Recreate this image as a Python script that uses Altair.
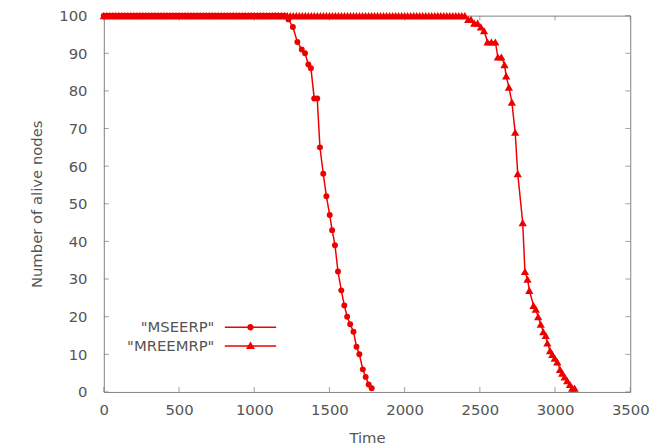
import altair as alt
import pandas as pd

RED = "#ee0000"
GREY = "#555555"
FONT = "DejaVu Sans"

series_names = ['"MSEERP"', '"MREEMRP"']

# MSEERP: plateau at 100 sampled every 20 time units, then the decline
mseerp_plateau_t = list(range(0, 1201, 20))
mseerp_fall_t = [1228, 1257, 1287, 1316, 1338, 1360, 1377, 1399, 1419, 1437,
                 1459, 1480, 1502, 1518, 1537, 1557, 1579, 1599, 1618, 1638,
                 1660, 1680, 1699, 1722, 1741, 1761, 1781]
mseerp_fall_v = [99, 97, 93, 91, 90, 87, 86, 78, 78, 65,
                 58, 52, 47, 43, 39, 32, 27, 23, 20, 18,
                 16, 12, 10, 6, 4, 2, 1]

# MREEMRP: plateau at 100 sampled every 20 time units, then the decline
mreemrp_plateau_t = list(range(0, 2401, 20))
mreemrp_fall_t = [2423, 2441, 2463, 2485, 2507, 2528, 2551, 2577, 2603, 2620,
                  2643, 2664, 2675, 2693, 2713, 2735, 2752, 2785, 2800, 2817,
                  2829, 2857, 2872, 2888, 2905, 2922, 2938, 2949, 2967, 2982,
                  2998, 3015, 3033, 3048, 3064, 3081, 3099, 3114, 3130]
mreemrp_fall_v = [99, 99, 98, 98, 97, 96, 93, 93, 93, 89,
                  89, 87, 84, 81, 77, 69, 58, 45, 32, 30,
                  27, 23, 22, 20, 18, 16, 15, 13, 11, 10,
                  9, 8, 6, 5, 4, 3, 2, 1, 1]

x_ticks = [0, 500, 1000, 1500, 2000, 2500, 3000, 3500]
y_ticks = [0, 10, 20, 30, 40, 50, 60, 70, 80, 90, 100]

rows = []
for t in mseerp_plateau_t:
    rows.append({"time": t, "nodes": 100, "series": series_names[0]})
for t, v in zip(mseerp_fall_t, mseerp_fall_v):
    rows.append({"time": t, "nodes": v, "series": series_names[0]})
for t in mreemrp_plateau_t:
    rows.append({"time": t, "nodes": 100, "series": series_names[1]})
for t, v in zip(mreemrp_fall_t, mreemrp_fall_v):
    rows.append({"time": t, "nodes": v, "series": series_names[1]})
df = pd.DataFrame(rows)

xt = pd.DataFrame({"t": x_ticks})
yt = pd.DataFrame({"v": y_ticks})

xscale = alt.Scale(domain=[0, 3500], nice=False, zero=False)
yscale = alt.Scale(domain=[0, 100], nice=False)

x_axis = alt.Axis(
    values=x_ticks, format="d", ticks=False, domain=False, grid=False, title="Time",
    labelPadding=11, titlePadding=13, labelFlush=False, labelOverlap=False)
y_axis = alt.Axis(
    values=y_ticks, format="d", ticks=False, domain=False, grid=False,
    title="Number of alive nodes", labelPadding=17, titlePadding=14,
    labelOverlap=False, labelFlush=False)

line = alt.Chart(df).mark_line(color=RED, strokeWidth=1.5).encode(
    x=alt.X("time:Q", scale=xscale, axis=x_axis),
    y=alt.Y("nodes:Q", scale=yscale, axis=y_axis),
    detail="series:N")

pts = alt.Chart(df).mark_point(filled=True, color=RED, opacity=1).encode(
    x=alt.X("time:Q", axis=x_axis), y=alt.Y("nodes:Q", axis=y_axis),
    shape=alt.Shape("series:N", scale=alt.Scale(domain=series_names, range=["circle", "triangle-up"]), legend=None),
    size=alt.Size("series:N", scale=alt.Scale(domain=series_names, range=[36, 70]), legend=None),
)

# legend symbols: a short line (thin filled bar) with the series marker on it
circ_path = "M-5.2,-0.15H5.2V0.15H-5.2Z M0.65,0A0.65,0.65,0,1,1,-0.65,0A0.65,0.65,0,1,1,0.65,0Z"
tri_path = "M-5.2,-0.15H5.2V0.15H-5.2Z M0,-0.9L0.9,0.6L-0.9,0.6Z"

legend_layer = alt.Chart(df).transform_filter("false").mark_point(
    filled=True, color=RED, opacity=1, size=100
).encode(
    shape=alt.Shape("series:N", scale=alt.Scale(domain=series_names, range=[circ_path, tri_path]),
                    legend=alt.Legend(title=None, orient="none", legendX=141, legendY=308,
                                      labelAlign="right", labelOffset={"expr": "-44"}, labelFontSize=15,
                                      labelFont=FONT, labelColor=GREY, symbolSize=100,
                                      symbolFillColor=RED, symbolOpacity=1, rowPadding=3))
)

tick_style = dict(color="#777777", thickness=1)
bottom_ticks = alt.Chart(xt).mark_tick(orient="vertical", size=5, yOffset=-2.5, **tick_style).encode(
    x=alt.X("t:Q", axis=x_axis), y=alt.YDatum(0, axis=y_axis))
top_ticks = alt.Chart(xt).mark_tick(orient="vertical", size=5, yOffset=2.5, **tick_style).encode(
    x=alt.X("t:Q", axis=x_axis), y=alt.YDatum(100, axis=y_axis))
left_ticks = alt.Chart(yt).mark_tick(orient="horizontal", size=5, xOffset=2.5, **tick_style).encode(
    y=alt.Y("v:Q", axis=y_axis), x=alt.XDatum(0, axis=x_axis))
right_ticks = alt.Chart(yt).mark_tick(orient="horizontal", size=5, xOffset=-2.5, **tick_style).encode(
    y=alt.Y("v:Q", axis=y_axis), x=alt.XDatum(3500, axis=x_axis))

chart = alt.layer(
    line, bottom_ticks, top_ticks, left_ticks, right_ticks, pts, legend_layer
).resolve_scale(shape="independent", size="independent").properties(
    width=533, height=381,
    background="white",
    autosize=alt.AutoSizeParams(type="none"),
    padding={"left": 97, "top": 5, "right": 20, "bottom": 53},
).configure_view(
    stroke="#808080", strokeWidth=1
).configure_axis(
    labelFont=FONT, labelFontSize=15, labelColor=GREY,
    titleFont=FONT, titleFontSize=15, titleColor=GREY, titleFontWeight="normal",
)

chart.save("out.html", embed_options={"renderer": "svg", "actions": False})
